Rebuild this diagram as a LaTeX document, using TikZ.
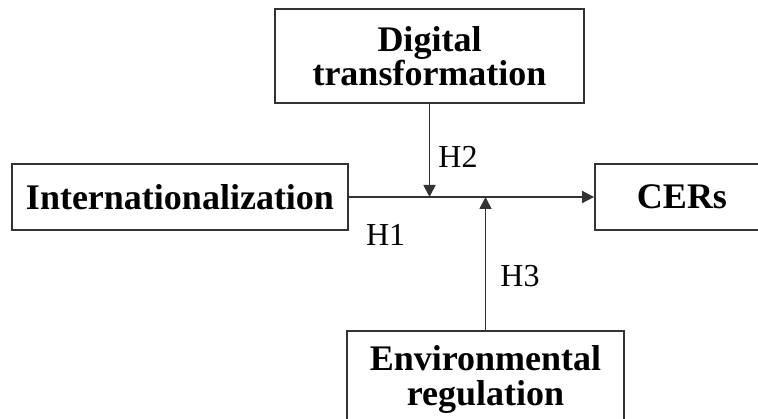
\documentclass[tikz,border=0pt]{standalone}
\usepackage{fontspec}
\setmainfont{Liberation Serif}
\usetikzlibrary{arrows.meta}
\tikzset{
	box/.style={draw=black!80,line width=1.8pt,inner sep=0pt,align=center,font=\fontsize{36}{36}\selectfont\bfseries},
	hyp/.style={inner sep=0pt,font=\fontsize{32}{32}\selectfont},
}
\begin{document}
\begin{tikzpicture}[x=1pt,y=-1pt,>={Triangle[length=12pt,width=12pt]}]
	\clip (0,0) rectangle (758,419);
	\node[box,minimum width=336pt,minimum height=66pt] (1) at (180,197) {Internationalization};
	\node[box,minimum width=174pt,minimum height=66pt] (2) at (682,197) {CERs};
	\node[box,minimum width=309pt,minimum height=94pt,font=\fontsize{36}{28}\selectfont\bfseries] (3) at (429.5,56) {Digital\\transformation};
	\node[box,minimum width=277pt,minimum height=96pt,font=\fontsize{36}{35}\selectfont\bfseries] (4) at (485.5,379) {Environmental\\regulation};
	\draw[->,line width=1.8pt,black!80] (1) --node[hyp,text=black,pos=0.15,anchor=north,yshift=-26pt] (h1) {H1} (2);
	\draw[->,line width=1.8pt,black!80] (3) --node[hyp,text=black,pos=0.574,anchor=west,xshift=8pt] (h2) {H2} (3 |- 1);
	\draw[->,line width=1.8pt,black!80] (4) --node[hyp,text=black,pos=0.403,anchor=west,xshift=14pt] (h3) {H3} (4 |- 1);
\end{tikzpicture}
\end{document}
